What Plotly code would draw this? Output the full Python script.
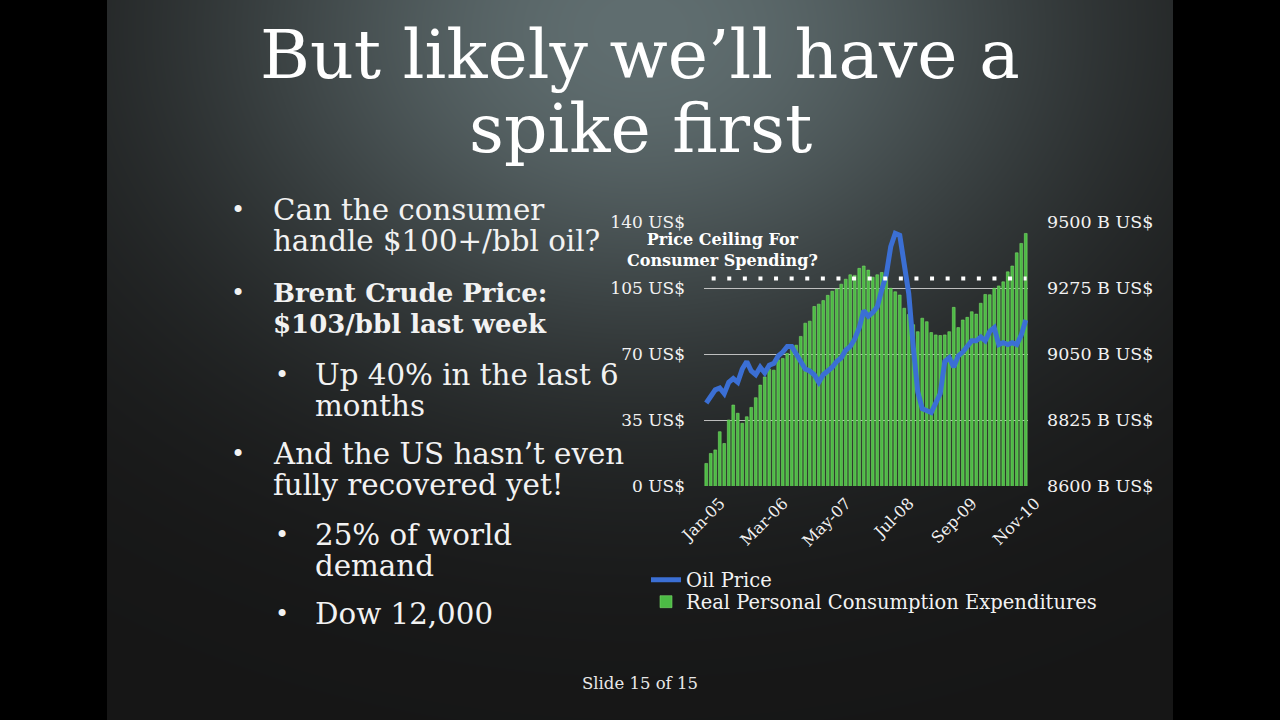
import base64, struct, zlib
import numpy as np
import plotly.graph_objects as go

# ---------------- data ----------------
MONTH_LABELS = ["Jan-05", "Mar-06", "May-07", "Jul-08", "Sep-09", "Nov-10"]
LABEL_STEP = 14
N_MONTHS = 72  # Jan-05 .. Dec-10

OIL_PRICE = [44, 47, 51, 52, 49, 55, 57, 55, 62, 66,
             61, 59, 63, 60, 64, 65, 69, 71, 74, 74,
             70, 66, 62, 61, 59, 55, 59, 61, 63, 66,
             68, 72, 74, 78, 84, 93, 90, 92, 95, 104,
             112, 127, 134, 133, 116, 102, 74, 50, 41, 40,
             39, 44, 49, 66, 68, 63, 69, 71, 74, 77,
             77, 79, 77, 82, 84, 75, 76, 75, 76, 75,
             80, 88]

PCE = [8677, 8711, 8723, 8785, 8745, 8825, 8876, 8848, 8814, 8836,
       8868, 8901, 8944, 8972, 8998, 8995, 9030, 9035, 9052, 9078,
       9080, 9110, 9155, 9162, 9212, 9220, 9232, 9250, 9264, 9272,
       9288, 9305, 9320, 9318, 9342, 9350, 9336, 9312, 9320, 9328,
       9316, 9274, 9262, 9251, 9206, 9185, 9150, 9126, 9172, 9160,
       9123, 9115, 9113, 9115, 9126, 9209, 9140, 9166, 9175, 9194,
       9186, 9223, 9253, 9252, 9274, 9282, 9296, 9330, 9350, 9395,
       9427, 9461]

LEFT_TICKS = [0, 35, 70, 105, 140]
LEFT_TICKTEXT = ["0 US$", "35 US$", "70 US$", "105 US$", "140 US$"]
RIGHT_TICKS = [8600, 8825, 9050, 9275, 9500]
RIGHT_TICKTEXT = ["8600 B US$", "8825 B US$", "9050 B US$", "9275 B US$", "9500 B US$"]
CEILING = 110

TITLE_LINES = ["But likely we’ll have a", "spike first"]
BULLETS = [
    # (level, bold, lines)
    (1, False, ["Can the consumer", "handle $100+/bbl oil?"]),
    (1, True, ["Brent Crude Price:", "$103/bbl last week"]),
    (2, False, ["Up 40% in the last 6", "months"]),
    (1, False, ["And the US hasn’t even", "fully recovered yet!"]),
    (2, False, ["25% of world", "demand"]),
    (2, False, ["Dow 12,000"]),
]
BULLET_Y = [210, 293, 375, 454, 535, 614]
FOOTER = "Slide 15 of 15"

W, H = 1280, 720
FONT = "DejaVu Serif"
TXT = "#f2f2f2"


def px(x):
    return x / W


def py(y):
    return 1 - y / H


# ---------------- background (radial vignette) ----------------
def make_bg():
    yy, xx = np.mgrid[0:H, 0:W].astype(float)
    d2 = ((xx - 640) / 560) ** 2 + ((yy - 30) / 420) ** 2
    w = np.exp(-d2 * 1.6)
    light = np.array([96, 110, 112], float)
    dark = np.array([22, 22, 22], float)
    img = dark + (light - dark) * w[..., None]
    img[:, :107] = 0
    img[:, 1173:] = 0
    img = np.clip(img, 0, 255).astype(np.uint8)
    raw = b"".join(b"\x00" + img[r].tobytes() for r in range(H))

    def chunk(t, d):
        c = struct.pack(">I", len(d)) + t + d
        return c + struct.pack(">I", zlib.crc32(t + d) & 0xffffffff)

    png = b"\x89PNG\r\n\x1a\n" + chunk(b"IHDR", struct.pack(">IIBBBBB", W, H, 8, 2, 0, 0, 0)) \
        + chunk(b"IDAT", zlib.compress(raw, 9)) + chunk(b"IEND", b"")
    return "data:image/png;base64," + base64.b64encode(png).decode()


x_idx = list(range(N_MONTHS))

fig = go.Figure()
fig.add_trace(go.Bar(
    x=x_idx, y=PCE, name="Real Personal Consumption Expenditures",
    marker=dict(color="#4cbb45", line=dict(color="#7ad86a", width=0.6)),
    yaxis="y", showlegend=True, legend="legend2",
))
fig.add_trace(go.Scatter(
    x=x_idx, y=OIL_PRICE, name="Oil Price", mode="lines",
    line=dict(color="#3b6fd4", width=5), yaxis="y2", legend="legend",
))

fig.add_shape(type="line", xref="x", yref="y2", x0=1.2, x1=71.2, y0=CEILING, y1=CEILING,
              line=dict(color="white", width=4, dash="4px,11.6px"))

annotations = []
for k, line in enumerate(TITLE_LINES):
    annotations.append(dict(x=px(640), y=py(55 + k * 73), xref="paper", yref="paper", text=line,
                            showarrow=False, xanchor="center", yanchor="middle",
                            font=dict(family=FONT, size=68, color="white")))
annotations.append(dict(x=px(722), y=py(250), xref="paper", yref="paper",
                        text="<b>Price Ceiling For<br>Consumer Spending?</b>",
                        showarrow=False, xanchor="center", yanchor="middle",
                        font=dict(family=FONT, size=16, color="white"), align="center"))
annotations.append(dict(x=px(640), y=py(683), xref="paper", yref="paper", text=FOOTER,
                        showarrow=False, xanchor="center", yanchor="middle",
                        font=dict(family=FONT, size=16.5, color="#e8e8e8")))

for (lvl, bold, lines), y0 in zip(BULLETS, BULLET_Y):
    bx = 238 if lvl == 1 else 282
    tx = 271 if lvl == 1 else 313
    annotations.append(dict(x=px(bx), y=py(y0), xref="paper", yref="paper", text="•",
                            showarrow=False, xanchor="center", yanchor="middle",
                            font=dict(family=FONT, size=24, color=TXT)))
    for k, line in enumerate(lines):
        t = f"<b>{line}</b>" if bold else line
        annotations.append(dict(x=px(tx), y=py(y0 + k * 30.5), xref="paper", yref="paper", text=t,
                                showarrow=False, xanchor="left", yanchor="middle",
                                font=dict(family=FONT, size=26 if bold else 29.3, color=TXT)))

legend_common = dict(xanchor="left", yanchor="middle", bgcolor="rgba(0,0,0,0)",
                     font=dict(family=FONT, size=19.5, color=TXT), itemwidth=30)

fig.update_layout(
    width=W, height=H,
    margin=dict(l=0, r=0, t=0, b=0, pad=0, autoexpand=False),
    paper_bgcolor="#1b1b1b", plot_bgcolor="rgba(0,0,0,0)",
    images=[dict(source=make_bg(), xref="paper", yref="paper", x=0, y=1, sizex=1, sizey=1,
                 sizing="stretch", layer="below", xanchor="left", yanchor="top")],
    bargap=0.38,
    xaxis=dict(domain=[px(704), px(1028)], range=[-0.5, N_MONTHS - 0.5],
               tickvals=[i * LABEL_STEP for i in range(len(MONTH_LABELS))], ticktext=MONTH_LABELS,
               tickangle=-45, showgrid=False, zeroline=False, showline=False, ticks="",
               tickfont=dict(family=FONT, size=16, color=TXT), ticklabelshift=14,
               ticklabelstandoff=4, automargin=False),
    yaxis=dict(domain=[py(486), py(222)], range=[8600, 9500], side="right",
               tickvals=RIGHT_TICKS, ticktext=RIGHT_TICKTEXT, showgrid=False, zeroline=False,
               showline=False, ticks="", ticklabelstandoff=18, automargin=False,
               tickfont=dict(family=FONT, size=17.5, color=TXT)),
    yaxis2=dict(overlaying="y", side="left", range=[0, 140],
                tickvals=LEFT_TICKS, ticktext=LEFT_TICKTEXT, showgrid=True,
                gridcolor="rgba(215,215,215,0.85)", gridwidth=1, zeroline=False, showline=False,
                ticks="", ticklabelstandoff=18, automargin=False,
                tickfont=dict(family=FONT, size=17, color=TXT)),
    legend=dict(x=px(646), y=py(580), **legend_common),
    legend2=dict(x=px(646), y=py(602), **legend_common),
    annotations=annotations,
    showlegend=True,
)

fig.write_html("out.html", post_script="document.body.style.margin='0';",
               config={"displayModeBar": False})
